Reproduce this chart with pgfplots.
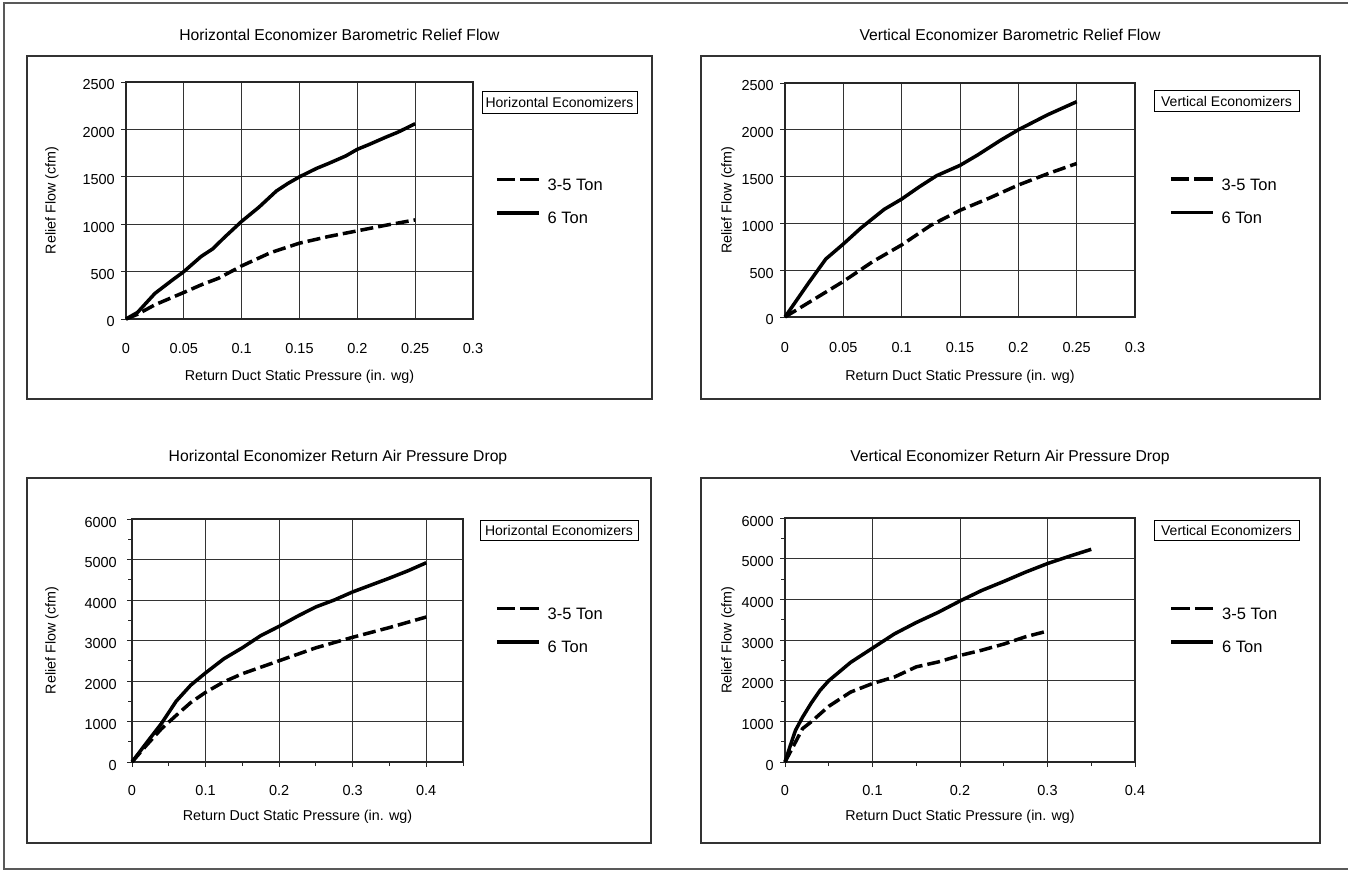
\documentclass[border=0pt]{standalone}
\usepackage{pgfplots}
\pgfplotsset{compat=1.18}
\usepackage{fontspec}
\setmainfont{Liberation Sans}
\newcommand{\fs}[1]{\fontsize{#1bp}{#1bp}\selectfont}

\pgfplotsset{
  econ/.style={
    scale only axis,
    clip=false,
    axis line style={line width=1.3bp, black!85},
    grid=major,
    major grid style={line width=1bp, black!80},
    tick style={line width=1bp, black!85},
    tick align=outside,
    tick pos=left,
    major tick length=5bp,
    minor tick length=4bp,
    tick label style={font=\fs{14.5}},
    label style={font=\fs{14.3}},
    ylabel={Relief Flow (cfm)},
    xlabel={Return Duct Static Pressure (in. wg)},
    xmin=0, ymin=0,
    legend cell align=left,
    legend style={draw=none, fill=none, font=\fs{16.5}, inner sep=0pt,
      column sep=7bp, row sep=19bp, nodes={inner sep=0pt}, anchor=west},
    legend image code/.code={\draw[#1] (0bp,6bp) -- (42bp,6bp);},
  },
  s6/.style={line width=3.5bp, black, line join=round},
  s35/.style={line width=3.5bp, black, dash pattern=on 13bp off 5bp, line join=round,
    legend image code/.code={\draw[line width=3.5bp, black, dash pattern=on 18.5bp off 5bp] (0bp,6bp) -- (42bp,6bp);}},
}

\begin{document}
\begin{tikzpicture}
\path[use as bounding box] (0,0) rectangle (1348bp,-871bp);
\draw[line width=1.5bp, black!65] (1348bp,-3bp) -- (4bp,-3bp) -- (4bp,-869bp) -- (1348bp,-869bp);
% panel boxes
\draw[line width=1.5bp, black!80] (27bp,-56bp) rectangle (652bp,-399bp);
\draw[line width=1.5bp, black!80] (701bp,-56bp) rectangle (1320bp,-399bp);
\draw[line width=1.5bp, black!80] (27bp,-478bp) rectangle (651bp,-843bp);
\draw[line width=1.5bp, black!80] (701bp,-478bp) rectangle (1320bp,-843bp);
% titles
\node[font=\fs{15.7}, inner sep=0pt] at (339.5bp,-35bp) {Horizontal Economizer Barometric Relief Flow};
\node[font=\fs{15.7}, inner sep=0pt] at (1010bp,-35bp) {Vertical Economizer Barometric Relief Flow};
\node[font=\fs{15.7}, inner sep=0pt] at (338bp,-457bp) {Horizontal Economizer Return Air Pressure Drop};
\node[font=\fs{15.7}, inner sep=0pt] at (1010bp,-457bp) {Vertical Economizer Return Air Pressure Drop};
% series boxes
\node[draw, line width=1bp, font=\fs{14}, minimum width=155bp, minimum height=22bp, inner sep=0pt] at (559.5bp,-102bp) {Horizontal Economizers};
\node[draw, line width=1bp, font=\fs{14}, minimum width=145bp, minimum height=21bp, inner sep=0pt] at (1226.5bp,-101bp) {Vertical Economizers};
\node[draw, line width=1bp, font=\fs{14}, minimum width=158bp, minimum height=20bp, inner sep=0pt] at (559bp,-530.5bp) {Horizontal Economizers};
\node[draw, line width=1bp, font=\fs{14}, minimum width=145bp, minimum height=20bp, inner sep=0pt] at (1226.5bp,-530.5bp) {Vertical Economizers};

% ---------- Panel 1 ----------
\begin{axis}[econ,
  at={(126bp,-319bp)}, anchor=south west, width=347bp, height=237bp,
  xmax=0.3, ymax=2500,
  xtick={0,0.05,0.1,0.15,0.2,0.25,0.3},
  xticklabels={0,0.05,0.1,0.15,0.2,0.25,0.3},
  ytick={0,500,1000,1500,2000,2500},
  yticklabels={0,500,1000,1500,2000,2500},
  x tick style={draw=none},
  yticklabel style={anchor=east, inner sep=0pt, xshift=-6bp, yshift=-3bp},
  xticklabel style={anchor=center, inner sep=0pt, yshift=-25bp},
  xlabel style={at={(axis description cs:0.5,-0.2447)}, anchor=center},
  ylabel style={at={(axis description cs:-0.2133,0.5)}, anchor=center},
  legend style={at={(axis description cs:1,1)}, xshift=22bp, yshift=-119.5bp},
]
\addplot[s35] coordinates {(0,0) (0.01,50) (0.025,150) (0.05,280) (0.065,360) (0.08,430) (0.1,560) (0.125,700) (0.15,800) (0.175,870) (0.2,930) (0.225,990) (0.25,1045)};
\addlegendentry{3-5 Ton}
\addplot[s6] coordinates {(0,0) (0.01,70) (0.025,270) (0.04,410) (0.05,500) (0.065,660) (0.075,740) (0.085,860) (0.1,1030) (0.115,1180) (0.13,1350) (0.14,1430) (0.15,1500) (0.165,1590) (0.175,1640) (0.19,1720) (0.2,1790) (0.21,1840) (0.225,1920) (0.235,1970) (0.25,2060)};
\addlegendentry{6 Ton}
\end{axis}

% ---------- Panel 2 ----------
\begin{axis}[econ,
  at={(785bp,-317bp)}, anchor=south west, width=350bp, height=234bp,
  xmax=0.3, ymax=2500,
  xtick={0,0.05,0.1,0.15,0.2,0.25,0.3},
  xticklabels={0,0.05,0.1,0.15,0.2,0.25,0.3},
  ytick={0,500,1000,1500,2000,2500},
  yticklabels={0,500,1000,1500,2000,2500},
  x tick style={draw=none},
  yticklabel style={anchor=east, inner sep=0pt, xshift=-6bp, yshift=-3bp},
  xticklabel style={anchor=center, inner sep=0pt, yshift=-26bp},
  xlabel style={at={(axis description cs:0.5,-0.2564)}, anchor=center},
  ylabel style={at={(axis description cs:-0.1629,0.5)}, anchor=center},
  legend style={at={(axis description cs:1,1)}, xshift=34bp, yshift=-118bp},
]
\addplot[s35] coordinates {(0,0) (0.025,190) (0.05,380) (0.075,590) (0.1,770) (0.125,980) (0.15,1140) (0.175,1270) (0.2,1410) (0.225,1530) (0.25,1640)};
\addlegendentry{3-5 Ton}
\addplot[s6] coordinates {(0,0) (0.01,180) (0.02,360) (0.035,620) (0.05,780) (0.065,950) (0.085,1150) (0.1,1260) (0.115,1390) (0.13,1510) (0.15,1620) (0.165,1730) (0.185,1890) (0.2,2000) (0.225,2160) (0.25,2300)};
\addlegendentry{6 Ton}
\end{axis}

% ---------- Panel 3 ----------
\begin{axis}[econ,
  at={(132bp,-762bp)}, anchor=south west, width=331bp, height=243bp,
  xmax=0.45, ymax=6000,
  xtick={0,0.1,0.2,0.3,0.4},
  xticklabels={0,0.1,0.2,0.3,0.4},
  minor xtick={0.05,0.15,0.25,0.35,0.45},
  ytick={0,1000,2000,3000,4000,5000,6000},
  yticklabels={0,1000,2000,3000,4000,5000,6000},
  minor ytick={500,1500,2500,3500,4500,5500},
  yticklabel style={anchor=east, inner sep=0pt, xshift=-10bp, yshift=-3bp},
  xticklabel style={anchor=center, inner sep=0pt, yshift=-23bp},
  xlabel style={at={(axis description cs:0.5,-0.2263)}, anchor=center},
  ylabel style={at={(axis description cs:-0.2417,0.5)}, anchor=center},
  legend style={at={(axis description cs:1,1)}, xshift=32bp, yshift=-111.5bp},
]
\addplot[s35] coordinates {(0,0) (0.02,420) (0.04,820) (0.06,1150) (0.08,1470) (0.1,1720) (0.125,1980) (0.15,2180) (0.175,2340) (0.2,2500) (0.25,2820) (0.3,3080) (0.35,3320) (0.4,3580)};
\addlegendentry{3-5 Ton}
\addplot[s6] coordinates {(0,0) (0.02,480) (0.04,950) (0.06,1500) (0.08,1900) (0.1,2200) (0.125,2550) (0.15,2820) (0.175,3120) (0.2,3350) (0.225,3600) (0.25,3830) (0.275,4000) (0.3,4200) (0.325,4370) (0.35,4540) (0.375,4720) (0.4,4920)};
\addlegendentry{6 Ton}
\end{axis}

% ---------- Panel 4 ----------
\begin{axis}[econ,
  at={(785bp,-762bp)}, anchor=south west, width=350bp, height=244bp,
  xmax=0.4, ymax=6000,
  xtick={0,0.1,0.2,0.3,0.4},
  xticklabels={0,0.1,0.2,0.3,0.4},
  minor xtick={0.05,0.15,0.25,0.35},
  ytick={0,1000,2000,3000,4000,5000,6000},
  yticklabels={0,1000,2000,3000,4000,5000,6000},
  minor ytick={500,1500,2500,3500,4500,5500},
  yticklabel style={anchor=east, inner sep=0pt, xshift=-6bp, yshift=-3bp},
  xticklabel style={anchor=center, inner sep=0pt, yshift=-23bp},
  xlabel style={at={(axis description cs:0.5,-0.2254)}, anchor=center},
  ylabel style={at={(axis description cs:-0.1629,0.5)}, anchor=center},
  legend style={at={(axis description cs:1,1)}, xshift=34.5bp, yshift=-112.5bp},
]
\addplot[s35] coordinates {(0,0) (0.012,490) (0.02,820) (0.03,990) (0.05,1370) (0.075,1720) (0.1,1930) (0.125,2090) (0.15,2340) (0.175,2460) (0.2,2620) (0.225,2750) (0.25,2900) (0.275,3080) (0.3,3220)};
\addlegendentry{3-5 Ton}
\addplot[s6] coordinates {(0,0) (0.006,400) (0.012,780) (0.02,1100) (0.03,1450) (0.04,1760) (0.05,2000) (0.075,2450) (0.1,2800) (0.125,3150) (0.15,3430) (0.175,3680) (0.2,3960) (0.225,4220) (0.25,4440) (0.275,4670) (0.3,4880) (0.325,5060) (0.35,5230)};
\addlegendentry{6 Ton}
\end{axis}
\end{tikzpicture}
\end{document}
